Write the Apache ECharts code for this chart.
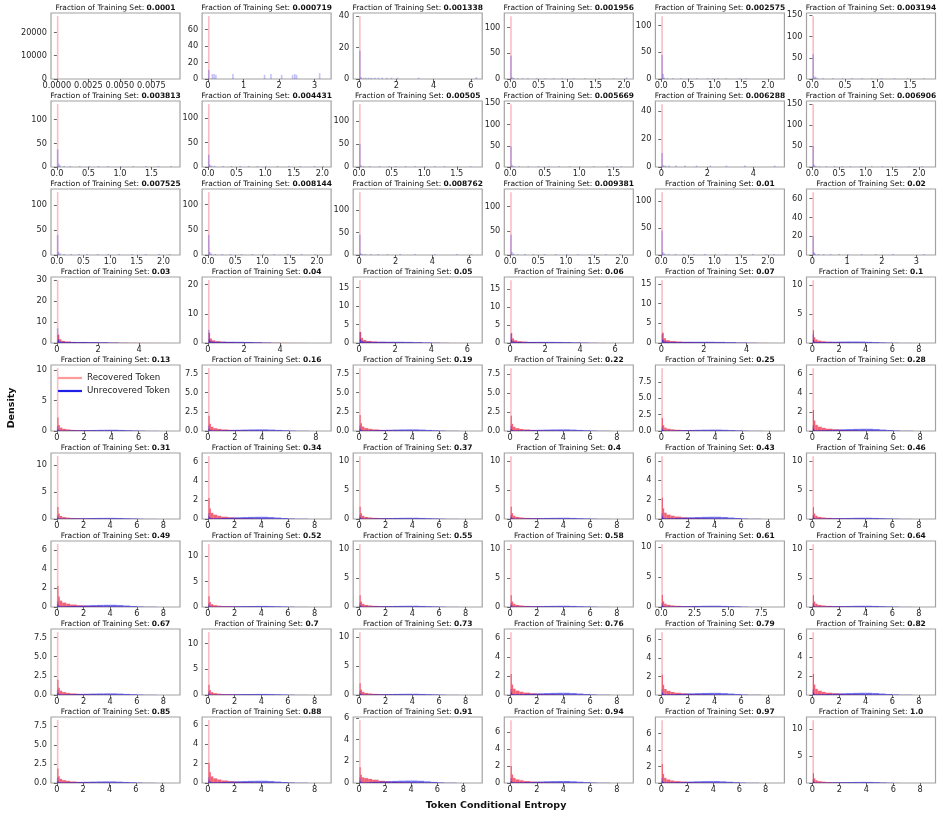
<!DOCTYPE html>
<html><head><meta charset="utf-8">
<script src="https://cdn.jsdelivr.net/npm/echarts@6/dist/echarts.min.js"></script>
<style>html,body{margin:0;padding:0;background:#fff}#c{width:943px;height:817px}</style>
</head><body><div id="c"></div>
<script>
// ---------------- DATA ----------------
const fractionLabels = ['0.0001','0.000719','0.001338','0.001956','0.002575','0.003194',
'0.003813','0.004431','0.00505','0.005669','0.006288','0.006906',
'0.007525','0.008144','0.008762','0.009381','0.01','0.02',
'0.03','0.04','0.05','0.06','0.07','0.1',
'0.13','0.16','0.19','0.22','0.25','0.28',
'0.31','0.34','0.37','0.4','0.43','0.46',
'0.49','0.52','0.55','0.58','0.61','0.64',
'0.67','0.7','0.73','0.76','0.79','0.82',
'0.85','0.88','0.91','0.94','0.97','1.0'];

// right end of the data range of each panel (x axis)
const xDataMax = [0.0093,3.3,6.3,2.06,2.2,1.8,
1.86,2.05,1.8,1.7,5.1,2.2,
2.2,2.15,6.4,2.1,2.2,3.38,
5.7,6.5,6.5,6.7,5.5,8.8,
8.6,8.7,8.8,8.8,8.7,8.7,
8.8,8.8,8.8,8.8,8.8,8.8,
8.8,8.8,8.8,8.8,8.8,8.8,
8.8,8.8,8.8,8.8,8.8,8.8,
8.9,8.8,9.0,8.8,9.0,8.7];

const TX_4DEC = ['0.0000','0.0025','0.0050','0.0075'];
const TX_0_3 = ['0','1','2','3'];
const TX_0_4 = ['0','2','4'];
const TX_0_6 = ['0','2','4','6'];
const TX_0_8 = ['0','2','4','6','8'];
const TX_00_15 = ['0.0','0.5','1.0','1.5'];
const TX_00_20 = ['0.0','0.5','1.0','1.5','2.0'];
const TX_00_75 = ['0.0','2.5','5.0','7.5'];

const TY_20000 = ['0','10000','20000'];
const TY_60 = ['0','20','40','60'];
const TY_40 = ['0','20','40'];
const TY_100 = ['0','50','100'];
const TY_150 = ['0','50','100','150'];
const TY_30 = ['0','10','20','30'];
const TY_20 = ['0','10','20'];
const TY_15 = ['0','5','10','15'];
const TY_10 = ['0','5','10'];
const TY_75 = ['0.0','2.5','5.0','7.5'];
const TY_6 = ['0','2','4','6'];

const xTickSets = [
TX_4DEC, TX_0_3, TX_0_6, TX_00_20, TX_00_20, TX_00_15,
TX_00_15, TX_00_20, TX_00_15, TX_00_15, TX_0_4, TX_00_20,
TX_00_20, TX_00_20, TX_0_6, TX_00_20, TX_00_20, TX_0_3,
TX_0_4, TX_0_4, TX_0_6, TX_0_6, TX_0_4, TX_0_8,
TX_0_8, TX_0_8, TX_0_8, TX_0_8, TX_0_8, TX_0_8,
TX_0_8, TX_0_8, TX_0_8, TX_0_8, TX_0_8, TX_0_8,
TX_0_8, TX_0_8, TX_0_8, TX_0_8, TX_00_75, TX_0_8,
TX_0_8, TX_0_8, TX_0_8, TX_0_8, TX_0_8, TX_0_8,
TX_0_8, TX_0_8, TX_0_8, TX_0_8, TX_0_8, TX_0_8];

const yTickSets = [
TY_20000, TY_60, TY_40, TY_100, TY_100, TY_150,
TY_100, TY_100, TY_100, TY_150, TY_40, TY_150,
TY_100, TY_100, TY_100, TY_100, TY_100, TY_60,
TY_30, TY_20, TY_15, TY_15, TY_15, TY_10,
TY_10, TY_75, TY_75, TY_75, TY_75, TY_6,
TY_10, TY_6, TY_10, TY_10, TY_6, TY_10,
TY_6, TY_10, TY_10, TY_10, TY_10, TY_10,
TY_75, TY_10, TY_10, TY_6, TY_6, TY_6,
TY_75, TY_6, TY_6, TY_6, TY_6, TY_10];

// bin edges used by the wide-range panels (heights listed per bin)
const WIDE_EDGES = [0,0.04,0.12,0.22,0.4,0.7,1.0,1.5,2,2.5,3,3.5,4,4.5,5,5.5,6,6.5,7.5,8.5];

// Recovered token histograms: [left, right, density] bins or heights on WIDE_EDGES
const recoveredHist = [
[[0,0.00006,27000]],
[[0,0.025,76]],
[[0,0.045,40]],
[[0,0.015,122]],
[[0,0.015,118]],
[[0,0.013,148]],
[[0,0.014,133]],
[[0,0.015,128]],
[[0,0.014,136]],
[[0,0.012,148]],
[[0,0.035,45]],
[[0,0.016,150]],
[[0,0.016,126]],
[[0,0.016,125]],
[[0,0.045,140]],
[[0,0.016,130]],
[[0,0.016,117]],
[[0,0.025,67]],
[30,4.0,1.8,1.0,0.7,0.5,0.4,0.3,0.22,0.15,0.1,0.07,0.05,0.03,0.02,0.01,0,0,0],
[21.5,3.5,1.5,0.9,0.6,0.45,0.35,0.26,0.2,0.14,0.1,0.07,0.05,0.03,0.02,0.01,0.005,0,0],
[17,3.0,1.4,0.8,0.55,0.4,0.3,0.22,0.17,0.12,0.09,0.06,0.04,0.03,0.02,0.01,0.005,0,0],
[17.5,2.8,1.3,0.75,0.5,0.38,0.28,0.21,0.16,0.12,0.09,0.06,0.04,0.03,0.02,0.01,0.005,0,0],
[16,2.6,1.2,0.7,0.48,0.36,0.27,0.2,0.15,0.11,0.08,0.05,0.03,0.02,0.01,0.005,0,0,0],
[10.8,2.2,1.0,0.6,0.4,0.3,0.22,0.16,0.12,0.09,0.07,0.05,0.04,0.03,0.02,0.015,0.01,0.005,0.002],
[10.3,2.2,1.0,0.55,0.35,0.25,0.18,0.13,0.1,0.08,0.06,0.05,0.04,0.03,0.02,0.015,0.01,0.005,0.002],
[8.2,2.0,0.95,0.55,0.36,0.27,0.2,0.14,0.1,0.08,0.06,0.05,0.04,0.03,0.02,0.015,0.01,0.005,0.002],
[8.2,2.1,1.0,0.58,0.38,0.28,0.2,0.14,0.1,0.08,0.06,0.05,0.04,0.03,0.02,0.015,0.01,0.005,0.002],
[8.3,2.0,0.95,0.56,0.37,0.27,0.2,0.14,0.1,0.08,0.06,0.05,0.04,0.03,0.02,0.015,0.01,0.005,0.002],
[9.6,2.0,0.9,0.52,0.34,0.25,0.18,0.13,0.1,0.08,0.06,0.05,0.04,0.03,0.02,0.015,0.01,0.005,0.002],
[6.6,2.2,1.1,0.65,0.45,0.33,0.24,0.17,0.12,0.09,0.07,0.05,0.04,0.03,0.02,0.015,0.01,0.005,0.002],
[11.6,2.2,1.0,0.55,0.35,0.25,0.18,0.13,0.1,0.08,0.06,0.05,0.04,0.03,0.02,0.015,0.01,0.005,0.002],
[6.6,2.2,1.1,0.65,0.45,0.33,0.24,0.17,0.12,0.09,0.07,0.05,0.04,0.03,0.02,0.015,0.01,0.005,0.002],
[10.8,2.1,1.0,0.55,0.35,0.26,0.19,0.13,0.1,0.08,0.06,0.05,0.04,0.03,0.02,0.015,0.01,0.005,0.002],
[10.8,2.1,1.0,0.55,0.36,0.26,0.19,0.14,0.1,0.08,0.06,0.05,0.04,0.03,0.02,0.015,0.01,0.005,0.002],
[6.5,2.2,1.1,0.65,0.45,0.34,0.25,0.17,0.12,0.09,0.07,0.05,0.04,0.03,0.02,0.015,0.01,0.005,0.002],
[10.8,2.0,0.95,0.55,0.35,0.26,0.19,0.13,0.1,0.08,0.06,0.05,0.04,0.03,0.02,0.015,0.01,0.005,0.002],
[6.6,2.2,1.1,0.66,0.46,0.34,0.25,0.17,0.12,0.09,0.07,0.05,0.04,0.03,0.02,0.015,0.01,0.005,0.002],
[12.4,2.1,1.0,0.55,0.35,0.25,0.18,0.13,0.1,0.08,0.06,0.05,0.04,0.03,0.02,0.015,0.01,0.005,0.002],
[10.8,2.0,0.95,0.55,0.35,0.26,0.19,0.13,0.1,0.08,0.06,0.05,0.04,0.03,0.02,0.015,0.01,0.005,0.002],
[10.8,2.0,0.95,0.55,0.35,0.26,0.19,0.13,0.1,0.08,0.06,0.05,0.04,0.03,0.02,0.015,0.01,0.005,0.002],
[10.5,2.0,0.95,0.55,0.36,0.26,0.19,0.13,0.1,0.08,0.06,0.05,0.04,0.03,0.02,0.015,0.01,0.005,0.002],
[10.8,2.0,0.95,0.55,0.35,0.26,0.19,0.13,0.1,0.08,0.06,0.05,0.04,0.03,0.02,0.015,0.01,0.005,0.002],
[8.2,2.0,0.95,0.56,0.37,0.27,0.2,0.14,0.1,0.08,0.06,0.05,0.04,0.03,0.02,0.015,0.01,0.005,0.002],
[12.2,2.0,0.95,0.55,0.35,0.25,0.18,0.13,0.1,0.08,0.06,0.05,0.04,0.03,0.02,0.015,0.01,0.005,0.002],
[10.8,2.0,0.95,0.55,0.35,0.26,0.19,0.13,0.1,0.08,0.06,0.05,0.04,0.03,0.02,0.015,0.01,0.005,0.002],
[6.6,2.2,1.1,0.66,0.46,0.34,0.25,0.17,0.12,0.09,0.07,0.05,0.04,0.03,0.02,0.015,0.01,0.005,0.002],
[6.8,2.2,1.1,0.65,0.45,0.33,0.24,0.17,0.12,0.09,0.07,0.05,0.04,0.03,0.02,0.015,0.01,0.005,0.002],
[6.6,2.2,1.1,0.65,0.45,0.33,0.24,0.17,0.12,0.09,0.07,0.05,0.04,0.03,0.02,0.015,0.01,0.005,0.002],
[8.3,1.9,0.9,0.55,0.37,0.28,0.2,0.14,0.1,0.08,0.06,0.05,0.04,0.03,0.02,0.015,0.01,0.005,0.002],
[6.5,2.1,1.1,0.68,0.48,0.36,0.26,0.18,0.13,0.1,0.07,0.05,0.04,0.03,0.02,0.015,0.01,0.005,0.002],
[5.8,1.45,0.75,0.52,0.45,0.38,0.3,0.2,0.14,0.1,0.08,0.06,0.05,0.04,0.03,0.02,0.01,0.005,0.002],
[7.4,2.0,1.0,0.6,0.42,0.32,0.23,0.16,0.12,0.09,0.07,0.05,0.04,0.03,0.02,0.015,0.01,0.005,0.002],
[7.6,2.3,1.1,0.62,0.42,0.3,0.22,0.16,0.12,0.09,0.07,0.05,0.04,0.03,0.02,0.015,0.01,0.005,0.002],
[11.6,1.8,0.85,0.5,0.33,0.24,0.17,0.12,0.09,0.07,0.05,0.04,0.03,0.02,0.015,0.01,0.005,0.002,0]
];

// Unrecovered token histograms
const unrecoveredHist = [
[],
[[0,0.025,11],[0.1,0.125,6],[0.15,0.175,6],[0.2,0.225,5],[0.68,0.705,6],[1.57,1.595,5],[1.75,1.775,6],[2.05,2.075,5],[2.36,2.385,5],[2.42,2.445,6],[2.47,2.495,5],[3.12,3.145,7]],
[[0,0.045,18],[0.07,0.11,1.2],[0.2,0.24,0.8],[0.33,0.37,0.8],[0.47,0.51,0.8],[0.62,0.66,0.8],[0.8,0.84,0.8],[1.0,1.04,0.8],[1.2,1.24,0.8],[1.45,1.49,0.8],[1.7,1.74,0.8],[2.02,2.06,0.8],[3.16,3.2,0.8],[6.26,6.3,1.2]],
[[0,0.015,45],[0.02,0.035,4],[0.05,0.065,2],[0.12,0.135,1.5],[0.2,0.215,1.5],[0.3,0.315,1.5],[0.45,0.465,1.5],[0.6,0.615,1.5],[0.75,0.765,1.5],[0.9,0.915,1.5],[1.1,1.115,1.5],[1.3,1.315,1.5],[1.55,1.565,1.5],[1.8,1.815,1.5],[2.03,2.045,3]],
[[0,0.015,45],[0.02,0.035,10],[0.04,0.055,3],[0.1,0.115,1.5],[0.2,0.215,1.5],[0.35,0.365,1.5],[0.5,0.515,1.5],[0.65,0.665,1.5],[0.85,0.865,1.5],[0.95,0.965,1.5],[1.05,1.065,1.5],[1.2,1.215,1.5],[1.45,1.465,1.5],[1.58,1.595,1.5]],
[[0,0.013,58],[0.02,0.033,6],[0.04,0.053,5],[0.07,0.083,2],[0.15,0.163,2],[0.3,0.313,2],[0.45,0.463,2],[0.6,0.613,2],[0.75,0.763,2],[0.9,0.913,2],[1.05,1.063,2],[1.25,1.263,2],[1.45,1.463,2],[1.7,1.713,2]],
[[0,0.014,37],[0.02,0.034,7],[0.04,0.054,3],[0.1,0.114,2],[0.2,0.214,2],[0.35,0.364,2],[0.5,0.514,2],[0.65,0.664,2],[0.8,0.814,2],[1.0,1.014,2],[1.2,1.214,2],[1.4,1.414,2],[1.6,1.614,2],[1.8,1.814,2]],
[[0,0.015,25],[0.02,0.035,5],[0.05,0.065,3],[0.1,0.115,2],[0.25,0.265,2],[0.4,0.415,2],[0.55,0.565,2],[0.7,0.715,2],[0.85,0.865,2],[1.0,1.015,2],[1.2,1.215,2],[1.4,1.415,2],[1.6,1.615,2],[1.85,1.865,2],[2.0,2.015,2]],
[[0,0.014,50],[0.02,0.034,4],[0.06,0.074,2],[0.15,0.164,2],[0.3,0.314,2],[0.45,0.464,2],[0.55,0.564,2],[0.7,0.714,2],[0.85,0.864,2],[1.0,1.014,2],[1.15,1.164,2],[1.3,1.314,2],[1.5,1.514,2],[1.7,1.714,2]],
[[0,0.012,48],[0.02,0.032,5],[0.05,0.062,2],[0.12,0.132,2],[0.25,0.262,2],[0.4,0.412,2],[0.55,0.562,2],[0.7,0.712,2],[0.85,0.862,2],[1.0,1.012,2],[1.2,1.212,2],[1.4,1.412,2],[1.6,1.612,2]],
[[0,0.035,10],[0.06,0.095,1.5],[0.15,0.185,1],[0.3,0.335,1],[0.6,0.635,1],[1.0,1.035,1],[1.5,1.535,1],[2.1,2.135,1],[2.8,2.835,1],[3.6,3.635,1],[4.9,4.935,1]],
[[0,0.016,50],[0.02,0.036,6],[0.05,0.066,3],[0.12,0.136,2],[0.25,0.266,2],[0.4,0.416,2],[0.55,0.566,2],[0.7,0.716,2],[0.9,0.916,2],[1.1,1.116,2],[1.3,1.316,2],[1.55,1.566,2],[1.8,1.816,2],[2.05,2.066,2]],
[[0,0.016,40],[0.02,0.036,6],[0.05,0.066,3],[0.12,0.136,2],[0.25,0.266,2],[0.4,0.416,2],[0.55,0.566,2],[0.75,0.766,2],[0.95,0.966,2],[1.15,1.166,2],[1.4,1.416,2],[1.65,1.666,2],[1.9,1.916,2],[2.1,2.116,2]],
[[0,0.016,40],[0.02,0.036,6],[0.05,0.066,3],[0.12,0.136,2],[0.25,0.266,2],[0.4,0.416,2],[0.6,0.616,2],[0.8,0.816,2],[1.0,1.016,2],[1.2,1.216,2],[1.45,1.466,2],[1.7,1.716,2],[1.95,1.966,2]],
[[0,0.045,45],[0.06,0.105,4],[0.15,0.195,2],[0.3,0.345,2],[0.6,0.645,2],[1.0,1.045,2],[1.5,1.545,2],[2.2,2.245,2],[3.0,3.045,2],[4.1,4.145,2],[5.3,5.345,2],[6.1,6.145,2]],
[[0,0.016,42],[0.02,0.036,6],[0.05,0.066,3],[0.12,0.136,2],[0.25,0.266,2],[0.4,0.416,2],[0.6,0.616,2],[0.8,0.816,2],[1.0,1.016,2],[1.2,1.216,2],[1.45,1.466,2],[1.7,1.716,2],[1.95,1.966,2]],
[[0,0.016,45],[0.02,0.036,5],[0.05,0.066,3],[0.12,0.136,2],[0.25,0.266,2],[0.4,0.416,2],[0.6,0.616,2],[0.8,0.816,2],[1.0,1.016,2],[1.2,1.216,2],[1.45,1.466,2],[1.7,1.716,2],[1.95,1.966,2],[2.1,2.116,2]],
[[0,0.025,20],[0.03,0.055,3],[0.06,0.085,1.5],[0.15,0.175,1],[0.3,0.325,1],[0.5,0.525,1],[0.75,0.775,1],[1.0,1.025,1],[1.4,1.425,1],[1.8,1.825,1],[2.3,2.325,1],[3.2,3.225,1]],
[7,1.6,0.7,0.55,0.5,0.5,0.5,0.45,0.35,0.2,0.06,0.02,0,0,0,0,0,0,0],
[4.5,1.2,0.6,0.45,0.42,0.42,0.42,0.4,0.36,0.28,0.15,0.05,0.01,0,0,0,0,0,0],
[3,1.0,0.5,0.35,0.33,0.33,0.34,0.34,0.33,0.3,0.24,0.15,0.07,0.02,0,0,0,0,0],
[2.5,0.9,0.45,0.32,0.3,0.3,0.31,0.32,0.32,0.3,0.26,0.18,0.1,0.04,0.01,0,0,0,0],
[2.2,0.8,0.4,0.3,0.28,0.28,0.3,0.31,0.31,0.28,0.22,0.13,0.05,0.01,0,0,0,0,0],
[1.5,0.5,0.25,0.18,0.17,0.18,0.2,0.22,0.24,0.25,0.25,0.24,0.2,0.15,0.1,0.06,0.03,0.01,0],
[0.8,0.3,0.12,0.08,0.08,0.09,0.11,0.13,0.15,0.17,0.19,0.2,0.2,0.17,0.13,0.09,0.05,0.02,0],
[0.7,0.28,0.12,0.08,0.08,0.09,0.11,0.14,0.16,0.18,0.2,0.21,0.21,0.18,0.14,0.1,0.05,0.02,0],
[0.7,0.28,0.12,0.08,0.08,0.09,0.11,0.14,0.16,0.18,0.2,0.21,0.21,0.18,0.14,0.1,0.05,0.02,0],
[0.7,0.28,0.12,0.08,0.08,0.09,0.11,0.14,0.16,0.18,0.2,0.21,0.21,0.18,0.14,0.1,0.05,0.02,0],
[0.7,0.28,0.12,0.08,0.08,0.09,0.11,0.14,0.16,0.18,0.2,0.21,0.21,0.18,0.14,0.1,0.05,0.02,0],
[0.6,0.25,0.12,0.08,0.08,0.09,0.11,0.14,0.17,0.2,0.22,0.23,0.23,0.2,0.15,0.1,0.05,0.02,0],
[0.7,0.28,0.12,0.08,0.08,0.09,0.11,0.14,0.16,0.18,0.2,0.21,0.21,0.18,0.14,0.1,0.05,0.02,0],
[0.6,0.25,0.12,0.08,0.08,0.09,0.11,0.14,0.17,0.2,0.22,0.23,0.23,0.2,0.15,0.1,0.05,0.02,0],
[0.7,0.28,0.12,0.08,0.08,0.09,0.11,0.14,0.16,0.18,0.2,0.21,0.21,0.18,0.14,0.1,0.05,0.02,0],
[0.7,0.28,0.12,0.08,0.08,0.09,0.11,0.14,0.16,0.18,0.2,0.21,0.21,0.18,0.14,0.1,0.05,0.02,0],
[0.6,0.25,0.12,0.08,0.08,0.09,0.11,0.14,0.17,0.2,0.22,0.23,0.23,0.2,0.15,0.1,0.05,0.02,0],
[0.7,0.28,0.12,0.08,0.08,0.09,0.11,0.14,0.16,0.18,0.2,0.21,0.21,0.18,0.14,0.1,0.05,0.02,0],
[0.6,0.25,0.12,0.08,0.08,0.09,0.11,0.14,0.17,0.2,0.22,0.23,0.23,0.2,0.15,0.1,0.05,0.02,0],
[0.7,0.28,0.12,0.08,0.08,0.09,0.11,0.14,0.16,0.18,0.2,0.21,0.21,0.18,0.14,0.1,0.05,0.02,0],
[0.7,0.28,0.12,0.08,0.08,0.09,0.11,0.14,0.16,0.18,0.2,0.21,0.21,0.18,0.14,0.1,0.05,0.02,0],
[0.7,0.28,0.12,0.08,0.08,0.09,0.11,0.14,0.16,0.18,0.2,0.21,0.21,0.18,0.14,0.1,0.05,0.02,0],
[0.7,0.28,0.12,0.08,0.08,0.09,0.11,0.14,0.16,0.18,0.2,0.21,0.21,0.18,0.14,0.1,0.05,0.02,0],
[0.7,0.28,0.12,0.08,0.08,0.09,0.11,0.14,0.16,0.18,0.2,0.21,0.21,0.18,0.14,0.1,0.05,0.02,0],
[0.7,0.28,0.12,0.08,0.08,0.09,0.11,0.14,0.16,0.18,0.2,0.21,0.21,0.18,0.14,0.1,0.05,0.02,0],
[0.7,0.28,0.12,0.08,0.08,0.09,0.11,0.14,0.16,0.18,0.2,0.21,0.21,0.18,0.14,0.1,0.05,0.02,0],
[0.7,0.28,0.12,0.08,0.08,0.09,0.11,0.14,0.16,0.18,0.2,0.21,0.21,0.18,0.14,0.1,0.05,0.02,0],
[0.6,0.25,0.12,0.08,0.08,0.09,0.11,0.14,0.17,0.2,0.22,0.23,0.23,0.2,0.15,0.1,0.05,0.02,0],
[0.6,0.25,0.12,0.08,0.08,0.09,0.11,0.14,0.17,0.2,0.22,0.23,0.23,0.2,0.15,0.1,0.05,0.02,0],
[0.6,0.25,0.12,0.08,0.08,0.09,0.11,0.14,0.17,0.2,0.22,0.23,0.23,0.2,0.15,0.1,0.05,0.02,0],
[0.7,0.28,0.12,0.08,0.08,0.09,0.11,0.14,0.16,0.18,0.2,0.21,0.21,0.18,0.14,0.1,0.05,0.02,0],
[0.6,0.25,0.12,0.08,0.08,0.09,0.11,0.14,0.17,0.2,0.22,0.23,0.23,0.2,0.15,0.1,0.05,0.02,0],
[0.5,0.2,0.1,0.06,0.06,0.08,0.1,0.13,0.16,0.19,0.21,0.22,0.22,0.2,0.15,0.1,0.05,0.02,0],
[0.6,0.25,0.12,0.08,0.08,0.09,0.11,0.14,0.17,0.2,0.22,0.23,0.23,0.2,0.15,0.1,0.05,0.02,0],
[0.6,0.25,0.12,0.08,0.08,0.09,0.11,0.14,0.17,0.2,0.22,0.23,0.23,0.2,0.15,0.1,0.05,0.02,0],
[0.7,0.28,0.12,0.08,0.08,0.09,0.11,0.14,0.16,0.18,0.2,0.21,0.2,0.16,0.1,0.05,0.02,0,0]
];

// ---------------- LAYOUT / STYLE ----------------
const FONT = 'DejaVu Sans';
const COL_LEFT0 = 51, COL_STEP = 151.1, PLOT_W = 129;
const ROW_TOP0 = 13, ROW_STEP = 88, PLOT_H = 66;
const RED = 'rgba(235,25,55,0.68)';
const BLUE = 'rgba(25,25,225,0.62)';
const SERIES_NAMES = ['Recovered Token', 'Unrecovered Token'];

function toBins(spec) {
  if (spec.length && typeof spec[0] === 'number') {
    return spec.map((h, k) => [WIDE_EDGES[k], WIDE_EDGES[k + 1], h]).filter(b => b[2] > 0);
  }
  return spec;
}

function makeRender(fill) {
  return function (params, api) {
    const a = api.coord([api.value(0), api.value(2)]);
    const b = api.coord([api.value(1), 0]);
    let w = b[0] - a[0], op = 1;
    if (w < 1) { w = 1.6; op = 0.42; }
    return {
      type: 'rect',
      shape: { x: a[0], y: a[1], width: w, height: b[1] - a[1] },
      style: { fill: fill, opacity: op }
    };
  };
}

function labelFormatter(labels) {
  return function (v) {
    for (const s of labels) { if (Math.abs(parseFloat(s) - v) < 1e-9) return s; }
    return '';
  };
}

const grids = [], xAxes = [], yAxes = [], series = [], titles = [];
for (let i = 0; i < fractionLabels.length; i++) {
  const row = Math.floor(i / 6), col = i % 6;
  const left = COL_LEFT0 + col * COL_STEP, top = ROW_TOP0 + row * ROW_STEP;
  grids.push({ left: left, top: top, width: PLOT_W, height: PLOT_H, show: true,
    borderColor: '#a2a2a2', borderWidth: 1.2, backgroundColor: 'transparent', containLabel: false });
  const D = xDataMax[i];
  const red = toBins(recoveredHist[i]);
  const blue = toBins(unrecoveredHist[i]);
  let hmax = 0;
  red.concat(blue).forEach(b => { if (b[2] > hmax) hmax = b[2]; });
  const xt = xTickSets[i].map(Number), yt = yTickSets[i].map(Number);
  xAxes.push({ type: 'value', gridIndex: i, min: -0.05 * D, max: 1.05 * D,
    axisLine: { show: false }, splitLine: { show: false },
    axisTick: { show: true, length: 3, lineStyle: { color: '#444', width: 0.8 }, customValues: xt },
    axisLabel: { show: true, customValues: xt, formatter: labelFormatter(xTickSets[i]),
      fontSize: 8.2, fontFamily: FONT, color: '#262626', margin: 2.5 } });
  yAxes.push({ type: 'value', gridIndex: i, min: 0, max: 1.05 * hmax,
    axisLine: { show: false }, splitLine: { show: false },
    axisTick: { show: true, length: 3, lineStyle: { color: '#444', width: 0.8 }, customValues: yt },
    axisLabel: { show: true, customValues: yt, formatter: labelFormatter(yTickSets[i]),
      fontSize: 8.2, fontFamily: FONT, color: '#262626', margin: 4 } });
  series.push({ type: 'custom', name: SERIES_NAMES[0], xAxisIndex: i, yAxisIndex: i, clip: true,
    itemStyle: { color: '#ff9a9a' }, renderItem: makeRender(RED), encode: { x: [0, 1], y: 2 }, data: red, silent: true });
  series.push({ type: 'custom', name: SERIES_NAMES[1], xAxisIndex: i, yAxisIndex: i, clip: true,
    itemStyle: { color: '#1f1fe6' }, renderItem: makeRender(BLUE), encode: { x: [0, 1], y: 2 }, data: blue, silent: true });
  titles.push({ text: 'Fraction of Training Set: {b|' + fractionLabels[i] + '}',
    left: left + PLOT_W / 2, top: top - 8.5, textAlign: 'center', padding: 0,
    textStyle: { fontSize: 7.5, fontFamily: FONT, fontWeight: 'normal', color: '#111',
      rich: { b: { fontSize: 7.5, fontFamily: FONT, fontWeight: 'bold', color: '#111' } } } });
}

const chart = echarts.init(document.getElementById('c'), null, { renderer: 'canvas' });
chart.setOption({
  animation: false,
  backgroundColor: '#fff',
  title: titles,
  grid: grids,
  xAxis: xAxes,
  yAxis: yAxes,
  series: series,
  legend: {
    data: [{ name: 'Recovered Token', itemStyle: { color: '#ff9a9a' } },
           { name: 'Unrecovered Token', itemStyle: { color: '#1f1fe6' } }],
    orient: 'vertical', left: 58, top: 371.5, padding: 0, itemGap: 0,
    itemWidth: 24, itemHeight: 2.2, icon: 'rect', selectedMode: false,
    textStyle: { fontSize: 8.7, fontFamily: FONT, color: '#222', lineHeight: 13 }
  },
  graphic: [
    { type: 'text', x: 12, y: 408, rotation: Math.PI / 2,
      style: { text: 'Density', fontSize: 9.5, fontWeight: 'bold', fontFamily: FONT, fill: '#111', align: 'center', verticalAlign: 'middle' } },
    { type: 'text', x: 496, y: 806,
      style: { text: 'Token Conditional Entropy', fontSize: 9.5, fontWeight: 'bold', fontFamily: FONT, fill: '#111', align: 'center', verticalAlign: 'middle' } }
  ]
});
</script>
</body></html>
